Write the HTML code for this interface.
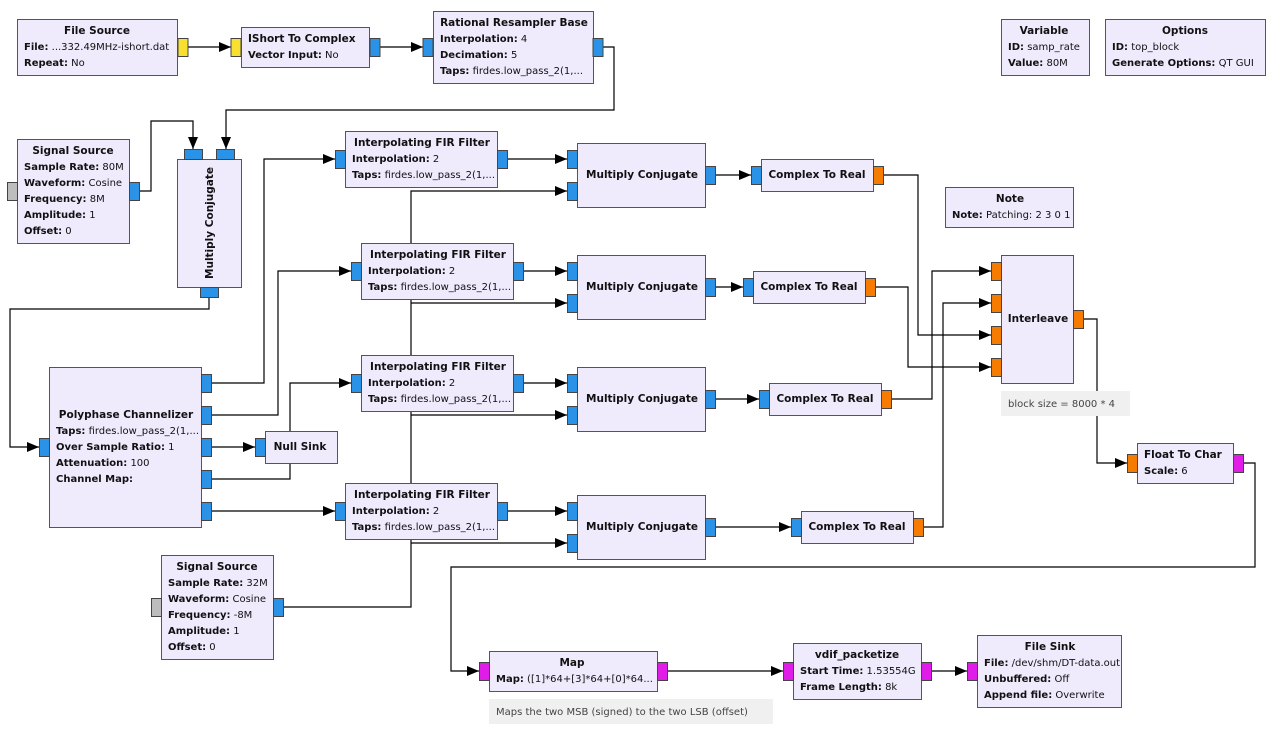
<!DOCTYPE html>
<html><head><meta charset="utf-8"><style>
html,body{margin:0;padding:0;background:#fff}
svg{display:block}
text{font-family:"DejaVu Sans","Liberation Sans",sans-serif;font-size:10px;fill:#111}
.t{font-weight:bold;font-size:10.5px}
.b{font-weight:bold}
.blk{fill:#efebfd;stroke:#555;stroke-width:1}
.pb{fill:#2a93e8;stroke:#444}
.py{fill:#f9e030;stroke:#444}
.po{fill:#f57c00;stroke:#444}
.pm{fill:#e01ce8;stroke:#444}
.pg{fill:#bdbdbd;stroke:#444}
.w{fill:none;stroke:#000;stroke-width:1.2}
.cm{fill:#f0f0f0}
</style></head><body>
<svg width="1277" height="735" viewBox="0 0 1277 735" xmlns="http://www.w3.org/2000/svg">
<defs><marker id="a" viewBox="0 0 12 10" refX="12" refY="5" markerWidth="12" markerHeight="10" markerUnits="userSpaceOnUse" orient="auto"><path d="M0,0 L12,5 L0,10 z" fill="#000"/></marker></defs>

<!-- wires -->
<g class="w" marker-end="url(#a)">
<path d="M188,47 H231"/>
<path d="M380,47 H423"/>
<path d="M603,47 H614 V110 H226 V149"/>
<path d="M139,191 H151 V121 H193 V149"/>
<path d="M209,297 V309 H10 V447 H39"/>
<path d="M211,383 H264 V159 H335"/>
<path d="M211,415 H278 V271 H351"/>
<path d="M211,447 H255"/>
<path d="M211,479 H290 V383 H351"/>
<path d="M211,511 H335"/>
<path d="M283,607 H411 V191 H567"/>
<path d="M411,303 H567"/>
<path d="M411,415 H567"/>
<path d="M411,543 H567"/>
<path d="M507,159 H567"/>
<path d="M523,271 H567"/>
<path d="M523,383 H567"/>
<path d="M507,511 H567"/>
<path d="M715,175 H751"/>
<path d="M715,287 H743"/>
<path d="M715,399 H759"/>
<path d="M715,527 H791"/>
<path d="M883,175 H918 V335 H991"/>
<path d="M875,287 H908 V367 H991"/>
<path d="M891,399 H932 V271 H991"/>
<path d="M923,527 H943 V303 H991"/>
<path d="M1083,319 H1097 V463 H1127"/>
<path d="M1243,463 H1255 V567 H451 V671 H479"/>
<path d="M667,671 H783"/>
<path d="M931,671 H967"/>
</g>

<!-- File Source -->
<rect class="blk" x="17.5" y="19.5" width="160" height="56"/>
<text class="t" x="97" y="34" text-anchor="middle">File Source</text>
<text x="24" y="50"><tspan class="b">File:</tspan> ...332.49MHz-ishort.dat</text>
<text x="24" y="66"><tspan class="b">Repeat:</tspan> No</text>
<rect class="py" x="178" y="38.5" width="10" height="18"/>

<!-- IShort -->
<rect class="blk" x="241.5" y="27.5" width="128" height="40"/>
<text class="t" x="248" y="42">IShort To Complex</text>
<text x="248" y="58"><tspan class="b">Vector Input:</tspan> No</text>
<rect class="py" x="231" y="38.5" width="10" height="18"/>
<rect class="pb" x="370" y="38.5" width="10" height="18"/>

<!-- Rational Resampler -->
<rect class="blk" x="433.5" y="11.5" width="160" height="72"/>
<text class="t" x="514" y="26" text-anchor="middle">Rational Resampler Base</text>
<text x="440" y="42"><tspan class="b">Interpolation:</tspan> 4</text>
<text x="440" y="58"><tspan class="b">Decimation:</tspan> 5</text>
<text x="440" y="74"><tspan class="b">Taps:</tspan> firdes.low_pass_2(1,...</text>
<rect class="pb" x="423" y="38.5" width="10" height="18"/>
<rect class="pb" x="593" y="38.5" width="10" height="18"/>

<!-- Variable / Options -->
<rect class="blk" x="1001.5" y="19.5" width="88" height="56"/>
<text class="t" x="1044" y="34" text-anchor="middle">Variable</text>
<text x="1008" y="50"><tspan class="b">ID:</tspan> samp_rate</text>
<text x="1008" y="66"><tspan class="b">Value:</tspan> 80M</text>
<rect class="blk" x="1105.5" y="19.5" width="160" height="56"/>
<text class="t" x="1185" y="34" text-anchor="middle">Options</text>
<text x="1112" y="50"><tspan class="b">ID:</tspan> top_block</text>
<text x="1112" y="66"><tspan class="b">Generate Options:</tspan> QT GUI</text>

<!-- Signal Source 1 -->
<rect class="blk" x="17.5" y="139.5" width="112" height="104"/>
<text class="t" x="73" y="154" text-anchor="middle">Signal Source</text>
<text x="24" y="170"><tspan class="b">Sample Rate:</tspan> 80M</text>
<text x="24" y="186"><tspan class="b">Waveform:</tspan> Cosine</text>
<text x="24" y="202"><tspan class="b">Frequency:</tspan> 8M</text>
<text x="24" y="218"><tspan class="b">Amplitude:</tspan> 1</text>
<text x="24" y="234"><tspan class="b">Offset:</tspan> 0</text>
<rect class="pg" x="7.5" y="182.5" width="10" height="18"/>
<rect class="pb" x="129.5" y="182.5" width="10" height="18"/>

<!-- Multiply Conjugate vertical -->
<rect class="blk" x="177.5" y="159.5" width="64" height="128"/>
<text class="t" transform="translate(213,223) rotate(-90)" text-anchor="middle">Multiply Conjugate</text>
<rect class="pb" x="184.5" y="149.5" width="18" height="10"/>
<rect class="pb" x="216.5" y="149.5" width="18" height="10"/>
<rect class="pb" x="200.5" y="287.5" width="18" height="10"/>

<!-- Interp FIR 1-4 -->
<rect class="blk" x="345.5" y="131.5" width="152" height="56"/>
<text class="t" x="422" y="146" text-anchor="middle">Interpolating FIR Filter</text>
<text x="352" y="162"><tspan class="b">Interpolation:</tspan> 2</text>
<text x="352" y="178"><tspan class="b">Taps:</tspan> firdes.low_pass_2(1,...</text>
<rect class="pb" x="335.5" y="150.5" width="10" height="18"/>
<rect class="pb" x="497.5" y="150.5" width="10" height="18"/>

<rect class="blk" x="361.5" y="243.5" width="152" height="56"/>
<text class="t" x="438" y="258" text-anchor="middle">Interpolating FIR Filter</text>
<text x="368" y="274"><tspan class="b">Interpolation:</tspan> 2</text>
<text x="368" y="290"><tspan class="b">Taps:</tspan> firdes.low_pass_2(1,...</text>
<rect class="pb" x="351.5" y="262.5" width="10" height="18"/>
<rect class="pb" x="513.5" y="262.5" width="10" height="18"/>

<rect class="blk" x="361.5" y="355.5" width="152" height="56"/>
<text class="t" x="438" y="370" text-anchor="middle">Interpolating FIR Filter</text>
<text x="368" y="386"><tspan class="b">Interpolation:</tspan> 2</text>
<text x="368" y="402"><tspan class="b">Taps:</tspan> firdes.low_pass_2(1,...</text>
<rect class="pb" x="351.5" y="374.5" width="10" height="18"/>
<rect class="pb" x="513.5" y="374.5" width="10" height="18"/>

<rect class="blk" x="345.5" y="483.5" width="152" height="56"/>
<text class="t" x="422" y="498" text-anchor="middle">Interpolating FIR Filter</text>
<text x="352" y="514"><tspan class="b">Interpolation:</tspan> 2</text>
<text x="352" y="530"><tspan class="b">Taps:</tspan> firdes.low_pass_2(1,...</text>
<rect class="pb" x="335.5" y="502.5" width="10" height="18"/>
<rect class="pb" x="497.5" y="502.5" width="10" height="18"/>

<!-- Multiply Conjugate 1-4 -->
<rect class="blk" x="577.5" y="143.5" width="128" height="64"/>
<text class="t" x="642" y="178" text-anchor="middle">Multiply Conjugate</text>
<rect class="pb" x="567.5" y="150.5" width="10" height="18"/>
<rect class="pb" x="567.5" y="182.5" width="10" height="18"/>
<rect class="pb" x="705.5" y="166.5" width="10" height="18"/>

<rect class="blk" x="577.5" y="255.5" width="128" height="64"/>
<text class="t" x="642" y="290" text-anchor="middle">Multiply Conjugate</text>
<rect class="pb" x="567.5" y="262.5" width="10" height="18"/>
<rect class="pb" x="567.5" y="294.5" width="10" height="18"/>
<rect class="pb" x="705.5" y="278.5" width="10" height="18"/>

<rect class="blk" x="577.5" y="367.5" width="128" height="64"/>
<text class="t" x="642" y="402" text-anchor="middle">Multiply Conjugate</text>
<rect class="pb" x="567.5" y="374.5" width="10" height="18"/>
<rect class="pb" x="567.5" y="406.5" width="10" height="18"/>
<rect class="pb" x="705.5" y="390.5" width="10" height="18"/>

<rect class="blk" x="577.5" y="495.5" width="128" height="64"/>
<text class="t" x="642" y="530" text-anchor="middle">Multiply Conjugate</text>
<rect class="pb" x="567.5" y="502.5" width="10" height="18"/>
<rect class="pb" x="567.5" y="534.5" width="10" height="18"/>
<rect class="pb" x="705.5" y="518.5" width="10" height="18"/>

<!-- Complex To Real 1-4 -->
<rect class="blk" x="761.5" y="159.5" width="112" height="32"/>
<text class="t" x="817" y="178" text-anchor="middle">Complex To Real</text>
<rect class="pb" x="751.5" y="166.5" width="10" height="18"/>
<rect class="po" x="873.5" y="166.5" width="10" height="18"/>

<rect class="blk" x="753.5" y="271.5" width="112" height="32"/>
<text class="t" x="809" y="290" text-anchor="middle">Complex To Real</text>
<rect class="pb" x="743.5" y="278.5" width="10" height="18"/>
<rect class="po" x="865.5" y="278.5" width="10" height="18"/>

<rect class="blk" x="769.5" y="383.5" width="112" height="32"/>
<text class="t" x="825" y="402" text-anchor="middle">Complex To Real</text>
<rect class="pb" x="759.5" y="390.5" width="10" height="18"/>
<rect class="po" x="881.5" y="390.5" width="10" height="18"/>

<rect class="blk" x="801.5" y="511.5" width="112" height="32"/>
<text class="t" x="857" y="530" text-anchor="middle">Complex To Real</text>
<rect class="pb" x="791.5" y="518.5" width="10" height="18"/>
<rect class="po" x="913.5" y="518.5" width="10" height="18"/>

<!-- Note -->
<rect class="blk" x="945.5" y="187.5" width="128" height="40"/>
<text class="t" x="1010" y="202" text-anchor="middle">Note</text>
<text x="952" y="218"><tspan class="b">Note:</tspan> Patching: 2 3 0 1</text>

<!-- Interleave -->
<rect class="blk" x="1001.5" y="255.5" width="72" height="128"/>
<text class="t" x="1038" y="322" text-anchor="middle">Interleave</text>
<rect class="po" x="991.5" y="262.5" width="10" height="18"/>
<rect class="po" x="991.5" y="294.5" width="10" height="18"/>
<rect class="po" x="991.5" y="326.5" width="10" height="18"/>
<rect class="po" x="991.5" y="358.5" width="10" height="18"/>
<rect class="po" x="1073.5" y="310.5" width="10" height="18"/>
<rect class="cm" x="1001" y="391" width="129" height="25"/>
<text x="1008" y="407" fill="#444" style="fill:#444">block size = 8000 * 4</text>

<!-- Float To Char -->
<rect class="blk" x="1137.5" y="443.5" width="96" height="40"/>
<text class="t" x="1144" y="458">Float To Char</text>
<text x="1144" y="474"><tspan class="b">Scale:</tspan> 6</text>
<rect class="po" x="1127.5" y="454.5" width="10" height="18"/>
<rect class="pm" x="1233.5" y="454.5" width="10" height="18"/>

<!-- Polyphase -->
<rect class="blk" x="49.5" y="367.5" width="152" height="160"/>
<text class="t" x="126" y="418" text-anchor="middle">Polyphase Channelizer</text>
<text x="56" y="434"><tspan class="b">Taps:</tspan> firdes.low_pass_2(1,...</text>
<text x="56" y="450"><tspan class="b">Over Sample Ratio:</tspan> 1</text>
<text x="56" y="466"><tspan class="b">Attenuation:</tspan> 100</text>
<text x="56" y="482"><tspan class="b">Channel Map:</tspan></text>
<rect class="pb" x="39.5" y="438.5" width="10" height="18"/>
<rect class="pb" x="201.5" y="374.5" width="10" height="18"/>
<rect class="pb" x="201.5" y="406.5" width="10" height="18"/>
<rect class="pb" x="201.5" y="438.5" width="10" height="18"/>
<rect class="pb" x="201.5" y="470.5" width="10" height="18"/>
<rect class="pb" x="201.5" y="502.5" width="10" height="18"/>

<!-- Null Sink -->
<rect class="blk" x="265.5" y="431.5" width="72" height="32"/>
<text class="t" x="300" y="450" text-anchor="middle">Null Sink</text>
<rect class="pb" x="255.5" y="438.5" width="10" height="18"/>

<!-- Signal Source 2 -->
<rect class="blk" x="161.5" y="555.5" width="112" height="104"/>
<text class="t" x="217" y="570" text-anchor="middle">Signal Source</text>
<text x="168" y="586"><tspan class="b">Sample Rate:</tspan> 32M</text>
<text x="168" y="602"><tspan class="b">Waveform:</tspan> Cosine</text>
<text x="168" y="618"><tspan class="b">Frequency:</tspan> -8M</text>
<text x="168" y="634"><tspan class="b">Amplitude:</tspan> 1</text>
<text x="168" y="650"><tspan class="b">Offset:</tspan> 0</text>
<rect class="pg" x="151.5" y="598.5" width="10" height="18"/>
<rect class="pb" x="273.5" y="598.5" width="10" height="18"/>

<!-- Map -->
<rect class="blk" x="489.5" y="651.5" width="168" height="40"/>
<text class="t" x="572" y="666" text-anchor="middle">Map</text>
<text x="496" y="682"><tspan class="b">Map:</tspan> ([1]*64+[3]*64+[0]*64...</text>
<rect class="pm" x="479.5" y="662.5" width="10" height="18"/>
<rect class="pm" x="657.5" y="662.5" width="10" height="18"/>
<rect class="cm" x="489" y="699" width="284" height="25"/>
<text x="496" y="715" style="fill:#444">Maps the two MSB (signed) to the two LSB (offset)</text>

<!-- vdif -->
<rect class="blk" x="793.5" y="643.5" width="128" height="56"/>
<text class="t" x="857" y="658" text-anchor="middle">vdif_packetize</text>
<text x="800" y="674"><tspan class="b">Start Time:</tspan> 1.53554G</text>
<text x="800" y="690"><tspan class="b">Frame Length:</tspan> 8k</text>
<rect class="pm" x="783.5" y="662.5" width="10" height="18"/>
<rect class="pm" x="921.5" y="662.5" width="10" height="18"/>

<!-- File Sink -->
<rect class="blk" x="977.5" y="635.5" width="144" height="72"/>
<text class="t" x="1050" y="650" text-anchor="middle">File Sink</text>
<text x="984" y="666"><tspan class="b">File:</tspan> /dev/shm/DT-data.out</text>
<text x="984" y="682"><tspan class="b">Unbuffered:</tspan> Off</text>
<text x="984" y="698"><tspan class="b">Append file:</tspan> Overwrite</text>
<rect class="pm" x="967.5" y="662.5" width="10" height="18"/>
</svg>
</body></html>
